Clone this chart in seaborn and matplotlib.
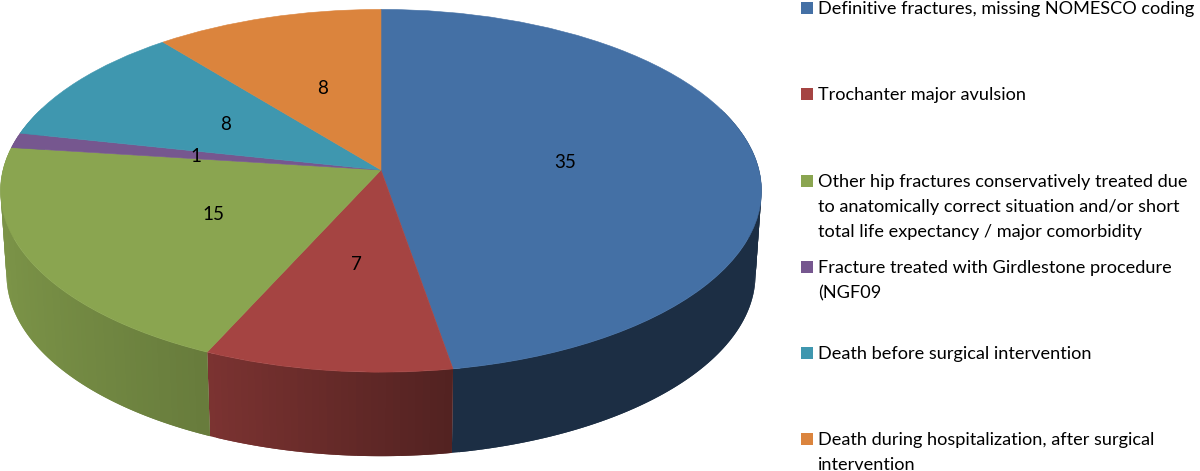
import numpy as np
import matplotlib
matplotlib.use("Agg")
import matplotlib.pyplot as plt
from matplotlib.transforms import Transform
import seaborn as sns

# Data
categories = [
    "Definitive fractures, missing NOMESCO coding",
    "Trochanter major avulsion",
    "Other hip fractures conservatively treated due\nto anatomically correct situation and/or short\ntotal life expectancy / major comorbidity",
    "Fracture treated with Girdlestone procedure\n(NGF09",
    "Death before surgical intervention",
    "Death during hospitalization, after surgical\nintervention",
]
values = [35, 7, 15, 1, 8, 8]
colors = ["#4470A5", "#A54442", "#8AA550", "#76578F", "#3F97AF", "#DB843D"]

# Where the value labels and legend rows sit, in pixels
label_x = [565, 356, 213, 196, 226, 323]
label_y = [163, 264, 215, 157, 125, 89]
legend_y = [8, 94, 181, 267, 353, 439]

# Perspective of the tilted disc
CX, CY, RX, RY = 381, 170, 378, 179
CY2, RX2 = 254, 372
TILT = 0.1146


def project(u, v, cy=CY, rx=RX):
    w = 1 + TILT * v
    return CX + rx * u / w, cy - RY * v / w


class Tilted(Transform):
    input_dims = 2
    output_dims = 2
    is_separable = False
    has_inverse = False

    def transform_non_affine(self, values):
        xy = np.asarray(values)
        x, y = project(xy[:, 0], xy[:, 1])
        return np.column_stack([x, y])


sns.set_theme(style="white")
plt.rcParams["font.family"] = ["Lato", "DejaVu Sans"]

fig = plt.figure(figsize=(12, 4.71), dpi=100)
ax = fig.add_axes([0, 0, 1, 1])

wedges, _ = ax.pie(
    values,
    colors=colors,
    startangle=90,
    counterclock=False,
    wedgeprops={"linewidth": 0.4, "zorder": 3},
)
for wedge, color in zip(wedges, colors):
    wedge.set_edgecolor(color)
    wedge.set_transform(Tilted() + ax.transData)

ax.set_aspect("auto")
ax.set_xlim(0, 1200)
ax.set_ylim(471, 0)
ax.axis("off")

# Side wall of the disc, darkened strip by strip
# each strip runs over the next one so no seams show
for wedge, color in zip(wedges, colors):
    base = np.array(matplotlib.colors.to_rgb(color))
    start, end = sorted([wedge.theta1, wedge.theta2])
    steps = np.arange(start, end, 1.0)
    for a in steps:
        t = np.deg2rad(np.linspace(a, min(a + 2.0, end), 4))
        u, v = np.cos(t), np.sin(t)
        if v.mean() > 0.35:
            continue
        x1, y1 = project(u, v)
        x2, y2 = project(u, v, cy=CY2, rx=RX2)
        shade = np.interp(u.mean(), [-1, -0.41, 0.17, 1], [0.9, 0.75, 0.5, 0.41])
        if color == colors[0]:
            shade = 0.41
        ax.fill(
            np.r_[x1, x2[::-1]],
            np.r_[y1, y2[::-1]],
            facecolor=base * shade,
            edgecolor="none",
            linewidth=0,
            zorder=2,
        )

# Value labels
for val, x, y in zip(values, label_x, label_y):
    ax.text(x, y, str(val), ha="center", va="center", fontsize=13.5, color="black", zorder=5)

# Legend
ax.scatter([807] * len(legend_y), legend_y, marker="s", s=72, c=colors, linewidths=0, zorder=5, clip_on=False)
for name, y in zip(categories, legend_y):
    for i, line in enumerate(name.split("\n")):
        ax.text(818, y + 6 + i * 25, line, ha="left", va="baseline", fontsize=13.1, color="black", zorder=5)

fig.savefig("out.png", dpi=100)
plt.close(fig)
